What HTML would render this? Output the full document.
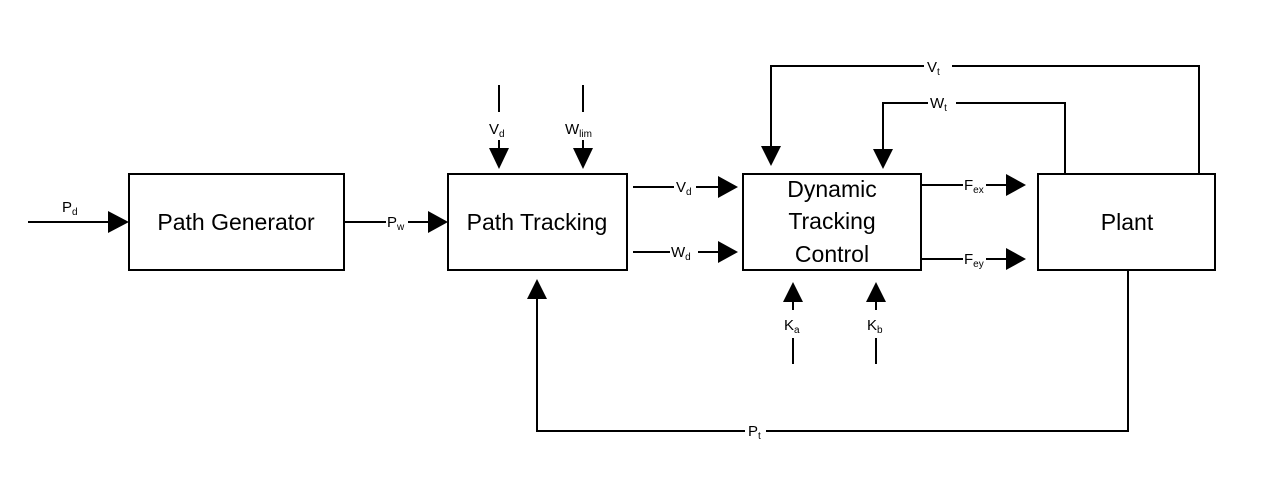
<!DOCTYPE html>
<html><head><meta charset="utf-8"><style>
html,body{margin:0;padding:0;background:#fff;}
svg{display:block;}
text{font-family:"Liberation Sans",sans-serif;fill:#000;}
.lbl{font-size:15px;}
.sub{font-size:10px;}
.big{font-size:23px;}
</style></head><body>
<svg width="1288" height="483" viewBox="0 0 1288 483" xmlns="http://www.w3.org/2000/svg">
<g stroke="#000" stroke-width="2" fill="none">
<rect x="129" y="174" width="215" height="96"/>
<rect x="448" y="174" width="179" height="96"/>
<rect x="743" y="174" width="178" height="96"/>
<rect x="1038" y="174" width="177" height="96"/>
<!-- Pd -->
<line x1="28" y1="222" x2="110" y2="222"/>
<!-- Pw -->
<line x1="344" y1="222" x2="386" y2="222"/><line x1="408" y1="222" x2="430" y2="222"/>
<!-- Vd top, Wlim -->
<line x1="499" y1="85" x2="499" y2="112"/><line x1="499" y1="140" x2="499" y2="150"/>
<line x1="583" y1="85" x2="583" y2="112"/><line x1="583" y1="140" x2="583" y2="150"/>
<!-- Vd Wd out -->
<line x1="633" y1="187" x2="674" y2="187"/><line x1="696" y1="187" x2="720" y2="187"/>
<line x1="633" y1="252" x2="670" y2="252"/><line x1="698" y1="252" x2="720" y2="252"/>
<!-- Fex Fey -->
<line x1="921" y1="185" x2="963" y2="185"/><line x1="986" y1="185" x2="1008" y2="185"/>
<line x1="921" y1="259" x2="963" y2="259"/><line x1="986" y1="259" x2="1008" y2="259"/>
<!-- Vt loop -->
<polyline points="1199,174 1199,66 952,66"/><polyline points="924,66 771,66 771,147"/>
<!-- Wt loop -->
<polyline points="1065,174 1065,103 956,103"/><polyline points="928,103 883,103 883,150"/>
<!-- Ka Kb -->
<line x1="793" y1="296" x2="793" y2="310"/><line x1="793" y1="338" x2="793" y2="364"/>
<line x1="876" y1="296" x2="876" y2="310"/><line x1="876" y1="338" x2="876" y2="364"/>
<!-- Pt loop -->
<polyline points="1128,270 1128,431 766,431"/><polyline points="745,431 537,431 537,298"/>
</g>
<g fill="#000">
<polygon points="108,211 129,222 108,233"/>
<polygon points="428,211 448,222 428,233"/>
<polygon points="489,148 509,148 499,169"/>
<polygon points="573,148 593,148 583,169"/>
<polygon points="718,176 738,187 718,198"/>
<polygon points="718,241 738,252 718,263"/>
<polygon points="1006,174 1026,185 1006,196"/>
<polygon points="1006,248 1026,259 1006,270"/>
<polygon points="761,146 781,146 771,166"/>
<polygon points="873,149 893,149 883,169"/>
<polygon points="783,302 803,302 793,282"/>
<polygon points="866,302 886,302 876,282"/>
<polygon points="527,299 547,299 537,279"/>
</g>
<text class="big" x="236" y="230" text-anchor="middle">Path Generator</text>
<text class="big" x="537" y="230" text-anchor="middle">Path Tracking</text>
<text class="big" x="832" y="197" text-anchor="middle">Dynamic</text>
<text class="big" x="832" y="229" text-anchor="middle">Tracking</text>
<text class="big" x="832" y="262" text-anchor="middle">Control</text>
<text class="big" x="1127" y="230" text-anchor="middle">Plant</text>
<text class="lbl" x="62" y="212">P<tspan class="sub" dy="3">d</tspan></text>
<text class="lbl" x="387" y="227">P<tspan class="sub" dy="3">w</tspan></text>
<text class="lbl" x="489" y="134">V<tspan class="sub" dy="3">d</tspan></text>
<text class="lbl" x="565" y="134">W<tspan class="sub" dy="3">lim</tspan></text>
<text class="lbl" x="676" y="192">V<tspan class="sub" dy="3">d</tspan></text>
<text class="lbl" x="671" y="257">W<tspan class="sub" dy="3">d</tspan></text>
<text class="lbl" x="964" y="190">F<tspan class="sub" dy="3">ex</tspan></text>
<text class="lbl" x="964" y="264">F<tspan class="sub" dy="3">ey</tspan></text>
<text class="lbl" x="927" y="72">V<tspan class="sub" dy="3">t</tspan></text>
<text class="lbl" x="930" y="108">W<tspan class="sub" dy="3">t</tspan></text>
<text class="lbl" x="784" y="330">K<tspan class="sub" dy="3">a</tspan></text>
<text class="lbl" x="867" y="330">K<tspan class="sub" dy="3">b</tspan></text>
<text class="lbl" x="748" y="436">P<tspan class="sub" dy="3">t</tspan></text>
</svg>
</body></html>
